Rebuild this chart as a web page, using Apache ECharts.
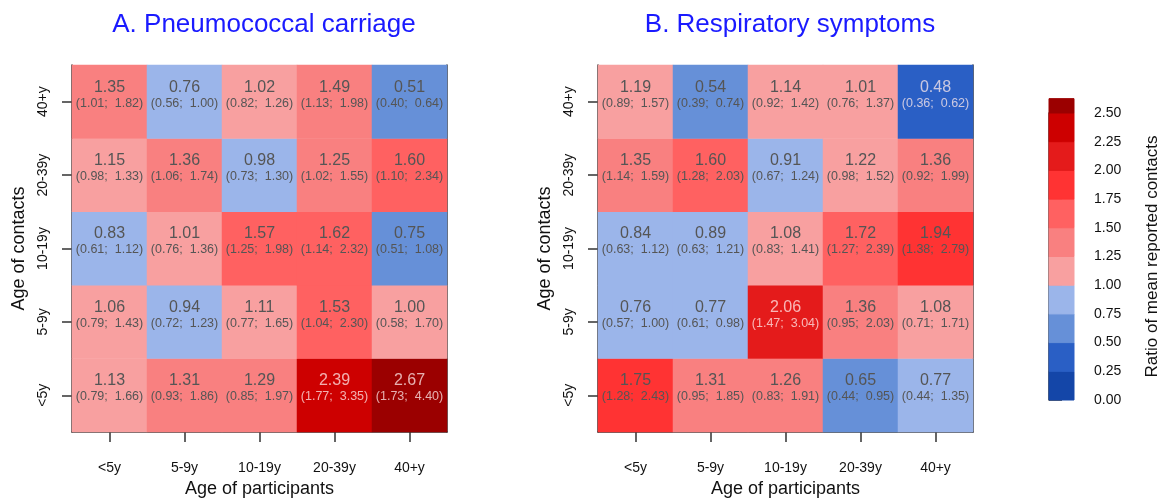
<!DOCTYPE html>
<html lang="en">
<head>
<meta charset="UTF-8">
<title>Contact ratios</title>
<style>
  html, body { margin: 0; padding: 0; background: #fff; }
  #box { width: 1162px; height: 498px; }
</style>
</head>
<body>
<div id="box"></div>
<script src="https://cdn.jsdelivr.net/npm/echarts@6/dist/echarts.min.js"></script>
<script>
  // age groups, used for both axes (participants on x, contacts on y, bottom to top)
  var ageGroups = ['<5y', '5-9y', '10-19y', '20-39y', '40+y'];

  // A. pneumococcal carriage, rows = age of contacts (<5y first), cols = age of participants
  var carriageRatio = [
    [1.13, 1.31, 1.29, 2.39, 2.67],
    [1.06, 0.94, 1.11, 1.53, 1.00],
    [0.83, 1.01, 1.57, 1.62, 0.75],
    [1.15, 1.36, 0.98, 1.25, 1.60],
    [1.35, 0.76, 1.02, 1.49, 0.51]
  ];
  var carriageLow = [
    [0.79, 0.93, 0.85, 1.77, 1.73],
    [0.79, 0.72, 0.77, 1.04, 0.58],
    [0.61, 0.76, 1.25, 1.14, 0.51],
    [0.98, 1.06, 0.73, 1.02, 1.10],
    [1.01, 0.56, 0.82, 1.13, 0.40]
  ];
  var carriageHigh = [
    [1.66, 1.86, 1.97, 3.35, 4.40],
    [1.43, 1.23, 1.65, 2.30, 1.70],
    [1.12, 1.36, 1.98, 2.32, 1.08],
    [1.33, 1.74, 1.30, 1.55, 2.34],
    [1.82, 1.00, 1.26, 1.98, 0.64]
  ];

  // B. respiratory symptoms
  var symptomRatio = [
    [1.75, 1.31, 1.26, 0.65, 0.77],
    [0.76, 0.77, 2.06, 1.36, 1.08],
    [0.84, 0.89, 1.08, 1.72, 1.94],
    [1.35, 1.60, 0.91, 1.22, 1.36],
    [1.19, 0.54, 1.14, 1.01, 0.48]
  ];
  var symptomLow = [
    [1.28, 0.95, 0.83, 0.44, 0.44],
    [0.57, 0.61, 1.47, 0.95, 0.71],
    [0.63, 0.63, 0.83, 1.27, 1.38],
    [1.14, 1.28, 0.67, 0.98, 0.92],
    [0.89, 0.39, 0.92, 0.76, 0.36]
  ];
  var symptomHigh = [
    [2.43, 1.85, 1.91, 0.95, 1.35],
    [1.00, 0.98, 3.04, 2.03, 1.71],
    [1.12, 1.21, 1.41, 2.39, 2.79],
    [1.59, 2.03, 1.24, 1.52, 1.99],
    [1.57, 0.74, 1.42, 1.37, 0.62]
  ];

  // colour key
  var legendBreaks = [0, 0.25, 0.5, 0.75, 1.0, 1.25, 1.5, 1.75, 2.0, 2.25, 2.5, 2.625];
  var legendColors = ['#1446A8', '#2A5FC5', '#6690D8', '#9BB5EA', '#F8A0A0', '#F98080',
                      '#FF6161', '#FF3333', '#E41B1B', '#CD0000', '#9B0000'];

  var myChart = echarts.init(document.getElementById('box'));

  // blue bins include their upper bound, red bins their lower bound
  var pieces = [];
  for (var i = 0; i < legendColors.length; i++) {
    var lo = legendBreaks[i], hi = legendBreaks[i + 1];
    if (hi < 1.0) {
      var p = { lte: hi, color: legendColors[i] };
      if (i > 0) p.gt = lo;
      pieces.push(p);
    } else if (hi === 1.0) {
      pieces.push({ gt: lo, lt: hi, color: legendColors[i] });
    } else if (i === legendColors.length - 1) {
      pieces.push({ gte: lo, color: legendColors[i] });
    } else {
      pieces.push({ gte: lo, lt: hi, color: legendColors[i] });
    }
  }

  function cellData(ratio, low, high) {
    var out = [];
    ratio.forEach(function (row, r) {
      row.forEach(function (v, c) {
        out.push({
          value: [c, r, v],
          ci: '(' + low[r][c].toFixed(2) + ';  ' + high[r][c].toFixed(2) + ')',
          dark: v >= 2 || v <= 0.5
        });
      });
    });
    return out;
  }

  var labelStyle = {
    show: true,
    offset: [0, -7],
    formatter: function (p) {
      var k = p.data.dark ? 'l' : 'd';
      return '{v' + k + '|' + p.value[2].toFixed(2) + '}\n{c' + k + '|' + p.data.ci + '}';
    },
    rich: {
      vd: { fontSize: 16, color: '#555', lineHeight: 17 },
      cd: { fontSize: 12.5, color: '#555', lineHeight: 15 },
      vl: { fontSize: 16, color: 'rgba(255,235,235,0.75)', lineHeight: 17 },
      cl: { fontSize: 12.5, color: 'rgba(255,235,235,0.75)', lineHeight: 15 }
    }
  };

  function xAxisFor(gi) {
    return {
      type: 'category', gridIndex: gi, data: ageGroups,
      axisLine: { show: true, lineStyle: { color: '#333', width: 1.5 } },
      axisTick: { show: true, alignWithLabel: true, length: 10, lineStyle: { color: '#333', width: 1.5 } },
      axisLabel: { fontSize: 14, color: '#111', margin: 29 },
      name: 'Age of participants', nameLocation: 'middle', nameGap: 46,
      nameTextStyle: { fontSize: 18, color: '#111' },
      splitLine: { show: false }
    };
  }
  function yAxisFor(gi) {
    return {
      type: 'category', gridIndex: gi, data: ageGroups,
      axisLine: { show: true, lineStyle: { color: '#333', width: 1.5 } },
      axisTick: { show: true, alignWithLabel: true, length: 10, lineStyle: { color: '#333', width: 1.5 } },
      axisLabel: { fontSize: 14, color: '#111', margin: 22, rotate: 90 },
      name: 'Age of contacts', nameLocation: 'middle', nameGap: 44, nameRotate: 90,
      nameTextStyle: { fontSize: 18, color: '#111' },
      splitLine: { show: false }
    };
  }
  // right-hand frame line of each panel
  function frameAxis(gi) {
    return {
      type: 'value', gridIndex: gi, position: 'right', min: 0, max: 1,
      axisLine: { show: true, onZero: false, lineStyle: { color: '#333', width: 1.5 } },
      axisTick: { show: false }, axisLabel: { show: false }, splitLine: { show: false }
    };
  }

  var legendData = legendColors.map(function (c, i) {
    return [legendBreaks[i], legendBreaks[i + 1]];
  });

  var option = {
    animation: false,
    textStyle: { fontFamily: 'Liberation Sans' },
    title: [
      { text: 'A. Pneumococcal carriage', left: 259, top: 7, textAlign: 'center',
        textStyle: { color: '#1a1aff', fontSize: 26, fontWeight: 'normal', fontFamily: 'Liberation Sans' } },
      { text: 'B. Respiratory symptoms', left: 785, top: 7, textAlign: 'center',
        textStyle: { color: '#1a1aff', fontSize: 26, fontWeight: 'normal', fontFamily: 'Liberation Sans' } }
    ],
    grid: [
      { left: 72, top: 65, width: 375, height: 367, outerBoundsMode: 'none' },
      { left: 598, top: 65, width: 375, height: 367, outerBoundsMode: 'none' },
      { left: 1049, top: 113, width: 25, height: 287, outerBoundsMode: 'none' }
    ],
    xAxis: [
      xAxisFor(0), xAxisFor(1),
      { type: 'value', gridIndex: 2, min: 0, max: 1, show: false }
    ],
    yAxis: [
      yAxisFor(0), yAxisFor(1), frameAxis(0), frameAxis(1),
      {
        type: 'value', gridIndex: 2, position: 'right', min: 0, max: 2.5, interval: 0.25,
        axisLine: { show: true, lineStyle: { color: '#333', width: 1.5 } },
        axisTick: { show: true, length: 13, lineStyle: { color: '#333', width: 1.5 } },
        axisLabel: { fontSize: 14, color: '#111', margin: 20,
          formatter: function (v) { return v.toFixed(2); } },
        splitLine: { show: false },
        name: 'Ratio of mean reported contacts', nameLocation: 'middle', nameGap: 70, nameRotate: 90,
        nameTextStyle: { fontSize: 17, color: '#111' }
      }
    ],
    visualMap: {
      type: 'piecewise', show: false, seriesIndex: [0, 1], dimension: 2,
      pieces: pieces
    },
    series: [
      { type: 'heatmap', xAxisIndex: 0, yAxisIndex: 0,
        data: cellData(carriageRatio, carriageLow, carriageHigh), label: labelStyle },
      { type: 'heatmap', xAxisIndex: 1, yAxisIndex: 1,
        data: cellData(symptomRatio, symptomLow, symptomHigh), label: labelStyle },
      {
        type: 'custom', xAxisIndex: 2, yAxisIndex: 4, clip: false, z: 1,
        data: legendData,
        renderItem: function (params, api) {
          var p0 = api.coord([0, api.value(0)]);
          var p1 = api.coord([1, api.value(1)]);
          var c = legendColors[params.dataIndex];
          return {
            type: 'rect',
            shape: { x: p0[0], y: p1[1], width: p1[0] - p0[0], height: p0[1] - p1[1] },
            style: { fill: c, stroke: c, lineWidth: 1 }
          };
        }
      }
    ]
  };

  myChart.setOption(option);
</script>
</body>
</html>
